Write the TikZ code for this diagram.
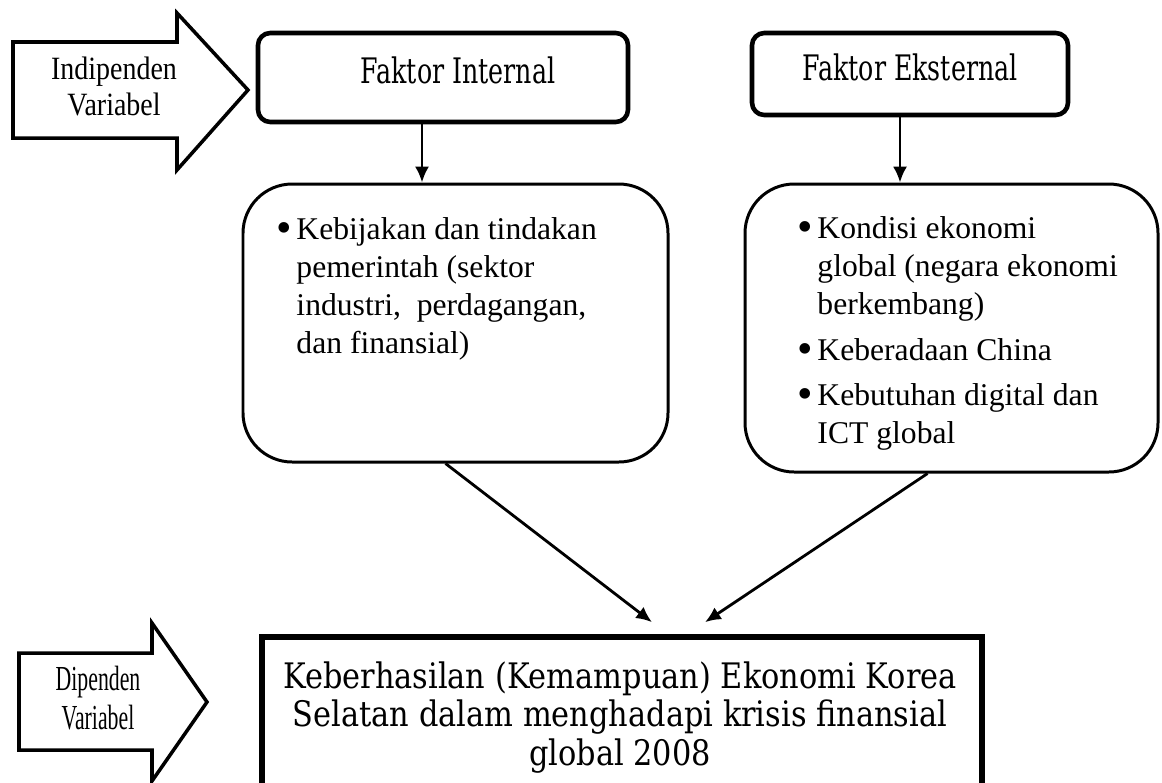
\documentclass[tikz,border=0pt]{standalone}
\usepackage{fontspec}
\setmainfont{Liberation Serif}
\newfontfamily\cambfont[FakeStretch=0.72]{DejaVu Serif}
\newfontfamily\goalfont[FakeStretch=0.865]{DejaVu Serif}
\newfontfamily\indfont[FakeStretch=0.86]{Liberation Serif}
\newfontfamily\depfont[FakeStretch=0.62]{Liberation Serif}
\usetikzlibrary{arrows.meta,calc,positioning}
\newcommand{\pxu}{0.02cm}
\newcommand{\bpt}{\makebox[0.62em][l]{\raisebox{-0.1em}{\scalebox{1.4}{\textbullet}}}}
\newcommand{\bind}{\hspace*{0.62em}}
\tikzset{
    factorsty/.style={draw, line width=2.6pt, rounded corners=7pt, inner sep=0pt, text depth=8pt, font=\cambfont\fontsize{20}{22}\selectfont},
    listboxsty/.style={draw, line width=1.7pt, rounded corners=28pt},
    liststy/.style={anchor=north west, inner sep=0pt, align=left, font=\fontsize{18}{21.5}\selectfont},
    goalsty/.style={draw, line width=3.2pt},
    goaltxtsty/.style={anchor=north, inner sep=0pt, align=center, font=\goalfont\fontsize{20}{22}\selectfont},
    varsty/.style={draw, line width=2pt, line join=miter},
    linksty/.style={-{Latex[length=9pt,width=8pt]}, line width=1.6pt},
}

\begin{document}
\begin{tikzpicture}[x=\pxu, y=-\pxu]
  \useasboundingbox (0,0) rectangle (1162,782);
  \clip (0,0) rectangle (1162,782);

  % variabel arrows
  \draw[varsty] (13,42) -- (177,42) -- (177,13) -- (248,90) -- (177,170) -- (177,138) -- (13,138) -- cycle;
  \node[font=\indfont\fontsize{18.5}{20.5}\selectfont, align=center, inner sep=0pt] (indep) at (114,86) {Indipenden\\Variabel};
  \draw[varsty] (19,653) -- (152,653) -- (152,623) -- (207,702) -- (152,781) -- (152,750) -- (19,750) -- cycle;
  \node[font=\depfont\fontsize{20}{22}\selectfont, align=center, inner sep=0pt] (dep) at (98,698) {Dipenden\\Variabel};

  % faktor boxes
  \node[factorsty, minimum width=370*\pxu, minimum height=89*\pxu] (fint) at (443,77.5) {\hspace*{0.6cm}Faktor Internal};
  \node[factorsty, minimum width=316*\pxu, minimum height=82*\pxu] (fext) at (910,74) {Faktor Eksternal};

  \node[listboxsty, minimum width=425*\pxu, minimum height=278*\pxu] (kebl) at (455.5,323) {};
  \node[listboxsty, minimum width=413*\pxu, minimum height=288*\pxu] (kebr) at (951.5,328) {};
  \node[liststy] (kebltxt) at ([xshift=35*\pxu, yshift=-35*\pxu]kebl.north west)
    {\bpt Kebijakan dan tindakan\\ \bind pemerintah (sektor\\ \bind industri,~ perdagangan,\\ \bind dan finansial)};
  \node[liststy] (kebrtxt) at ([xshift=54*\pxu, yshift=-34*\pxu]kebr.north west)
    {\bpt Kondisi ekonomi\\ \bind global (negara ekonomi\\ \bind berkembang)\\[4.5pt]
     \bpt Keberadaan China\\[4.5pt]
     \bpt Kebutuhan digital dan\\ \bind ICT global};

  % goal
  \node[goalsty, minimum width=720*\pxu, minimum height=163*\pxu] (goal) at (622,718.5) {};
  \node[goaltxtsty] (goaltxt) at (620,661)
    {Keberhasilan (Kemampuan) Ekonomi Korea\\Selatan dalam menghadapi krisis finansial\\global 2008};

  \draw[linksty] ([xshift=-21*\pxu]fint.south) coordinate (a1) -- (a1 |- kebl.north);
  \draw[linksty] ([xshift=-10*\pxu]fext.south) coordinate (a2) -- (a2 |- kebr.north);
  \draw[linksty] ([xshift=-10*\pxu]kebl.south) -- ([xshift=30*\pxu, yshift=12*\pxu]goal.north);
  \draw[linksty] ([xshift=-24*\pxu]kebr.south) -- ([xshift=83*\pxu, yshift=12*\pxu]goal.north);
\end{tikzpicture}
\end{document}
